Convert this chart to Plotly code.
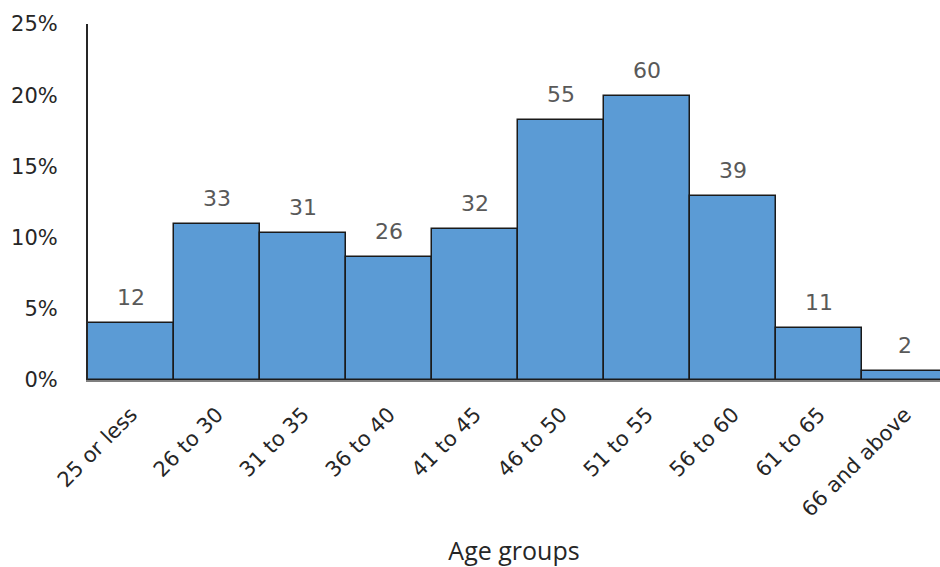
import plotly.graph_objects as go

categories = ["25 or less", "26 to 30", "31 to 35", "36 to 40", "41 to 45",
              "46 to 50", "51 to 55", "56 to 60", "61 to 65", "66 and above"]
counts = [12, 33, 31, 26, 32, 55, 60, 39, 11, 2]
total = sum(counts)
percents = [c / total * 100 for c in counts]
y_ticks = [0, 5, 10, 15, 20, 25]
y_tick_labels = ["0%", "5%", "10%", "15%", "20%", "25%"]

fig = go.Figure()
fig.add_trace(go.Bar(
    x=categories, y=percents,
    marker=dict(color="#5B9BD5", line=dict(color="#1a1a1a", width=1.5)),
    hoverinfo="skip",
))

for cat, p, c in zip(categories, percents, counts):
    fig.add_annotation(x=cat, y=p, text=str(c), showarrow=False,
                       yanchor="bottom", yshift=11,
                       font=dict(family="DejaVu Sans", size=22, color="#595959"))

fig.update_layout(
    width=940, height=567,
    margin=dict(l=88, r=0, t=24, b=187),
    paper_bgcolor="white", plot_bgcolor="white",
    bargap=0, showlegend=False,
    xaxis=dict(
        range=[-0.5, 9.407], tickangle=-45,
        tickfont=dict(family="DejaVu Sans", size=21, color="#262626"),
        showline=True, linecolor="#7f7f7f", linewidth=2,
        showgrid=False, ticks="", ticklabelstandoff=12,
        title=dict(text="Age groups", font=dict(family="Open Sans", size=25, color="#262626"), standoff=22),
    ),
    yaxis=dict(
        range=[0, 25], tickvals=y_ticks, ticktext=y_tick_labels,
        tickfont=dict(family="DejaVu Sans", size=21, color="#262626"),
        showline=True, linecolor="#262626", linewidth=2,
        showgrid=False, ticks="", zeroline=False, ticklabelstandoff=24,
    ),
)

fig.write_html("out.html")
